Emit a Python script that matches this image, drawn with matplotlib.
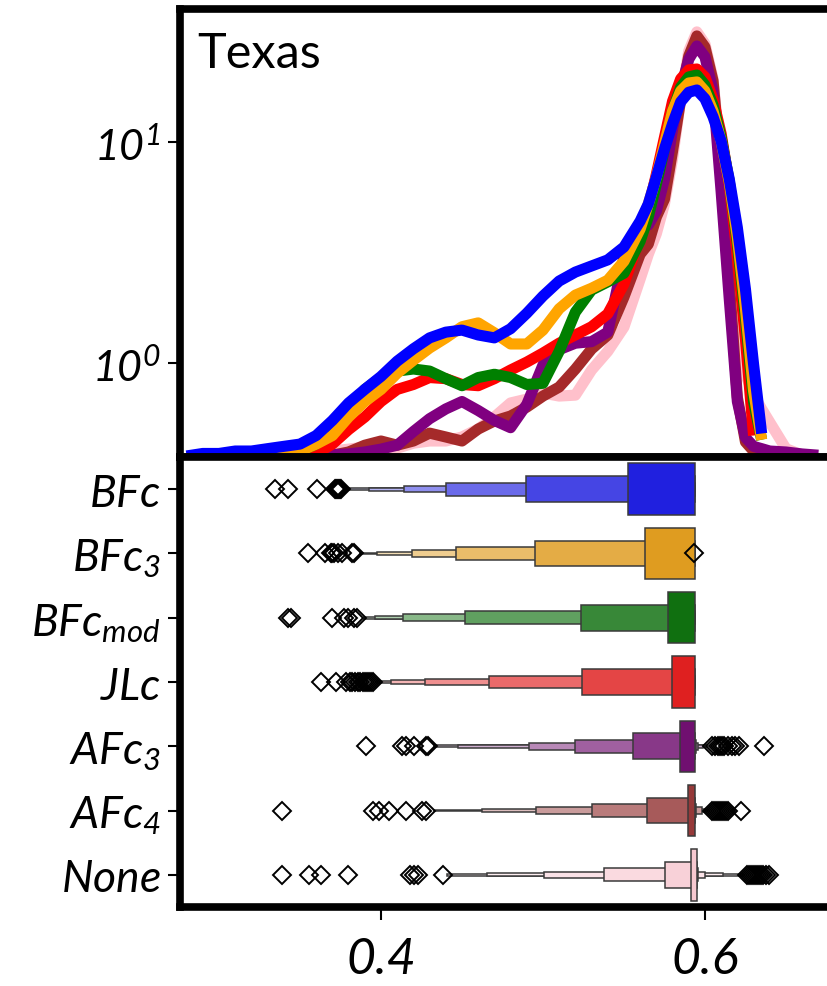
import colorsys
import matplotlib
matplotlib.use('Agg')
import matplotlib.pyplot as plt
import matplotlib.colors as mcolors
from matplotlib.ticker import NullLocator
import numpy as np

plt.rcParams['font.family'] = ['Lato', 'DejaVu Sans']
plt.rcParams['mathtext.fontset'] = 'custom'
plt.rcParams['mathtext.it'] = 'Lato:italic'
plt.rcParams['mathtext.rm'] = 'Lato:italic'

# methods, top to bottom in the lower panel
methods = ['BFc', 'BFc3', 'BFcmod', 'JLc', 'AFc3', 'AFc4', 'None']
method_labels = [r'$\mathit{BFc}$', r'$\mathit{BFc_{3}}$', r'$\mathit{BFc_{mod}}$', r'$\mathit{JLc}$',
                 r'$\mathit{AFc_{3}}$', r'$\mathit{AFc_{4}}$', r'$\mathit{None}$']
colors = ['blue', 'orange', 'green', 'red', 'purple', 'brown', 'pink']

# density curves (log scale), sampled on a common grid
kde_x = [0.28, 0.29, 0.30, 0.31, 0.32, 0.33, 0.34, 0.35, 0.36, 0.37,
         0.38, 0.39, 0.40, 0.41, 0.42, 0.43, 0.44, 0.45, 0.46, 0.47,
         0.48, 0.49, 0.50, 0.51, 0.52, 0.53, 0.54, 0.55,
         0.56, 0.565, 0.57, 0.575, 0.58, 0.585, 0.59, 0.595,
         0.60, 0.605, 0.61, 0.615, 0.62, 0.625, 0.63, 0.635,
         0.64, 0.65, 0.66, 0.67]
nan = np.nan
dens_bfc = [0.38, 0.39, 0.39, 0.40, 0.40, 0.41, 0.42, 0.43, 0.47, 0.55,
            0.66, 0.76, 0.87, 1.02, 1.16, 1.30, 1.38, 1.41, 1.34, 1.30,
            1.43, 1.68, 2.01, 2.35, 2.58, 2.75, 2.93, 3.35,
            4.39, 5.24, 6.94, 9.30, 12.1, 15.2, 16.8, 17.2,
            15.7, 13.0, 10.1, 6.8, 4.1, 2.16, 0.99, 0.48,
            nan, nan, nan, nan]
dens_bfc3 = [nan, nan, 0.38, 0.38, 0.38, 0.385, 0.39, 0.40, 0.43, 0.47,
             0.57, 0.67, 0.76, 0.90, 1.03, 1.17, 1.30, 1.46, 1.52, 1.37,
             1.22, 1.22, 1.41, 1.76, 2.03, 2.18, 2.37, 2.89,
             4.04, 5.24, 6.94, 9.8, 13.8, 17.0, 18.5, 18.7,
             17.0, 13.8, 10.1, 6.6, 3.7, 1.76, 0.75, 0.45,
             nan, nan, nan, nan]
dens_bfcmod = [nan, nan, 0.38, 0.38, 0.38, 0.385, 0.39, 0.40, 0.43, 0.50,
               0.62, 0.76, 0.86, 0.92, 0.94, 0.92, 0.85, 0.79, 0.86, 0.89,
               0.86, 0.80, 0.81, 1.13, 1.70, 2.14, 2.33, 2.55,
               3.56, 4.58, 6.45, 9.3, 13.8, 17.7, 19.7, 20.1,
               18.1, 14.7, 10.5, 6.66, 3.49, 1.61, 0.67, 0.45,
               nan, nan, nan, nan]
dens_jlc = [nan, nan, nan, 0.38, 0.38, 0.38, 0.38, 0.38, 0.39, 0.43,
            0.50, 0.57, 0.67, 0.76, 0.80, 0.86, 0.85, 0.80, 0.79, 0.85,
            0.93, 1.01, 1.11, 1.23, 1.34, 1.46, 1.67, 2.28,
            3.72, 4.98, 7.16, 10.5, 15.3, 19.3, 21.2, 21.4,
            19.7, 15.6, 10.9, 6.45, 3.02, 1.28, 0.47, nan,
            nan, nan, nan, nan]
dens_afc3 = [nan, nan, nan, nan, nan, nan, 0.38, 0.38, 0.383, 0.385,
             0.388, 0.396, 0.408, 0.425, 0.49, 0.56, 0.62, 0.67, 0.61, 0.55,
             0.51, 0.65, 0.98, 1.15, 1.23, 1.25, 1.38, 3.02,
             4.12, 4.21, 4.87, 6.80, 11.4, 17.4, 23.7, 27.2,
             24.3, 17.0, 5.94, 1.95, 0.67, 0.46, 0.42, 0.41,
             0.40, 0.396, 0.388, 0.383]
dens_afc4 = [nan, nan, nan, nan, nan, nan, 0.38, 0.38, 0.38, 0.383,
             0.396, 0.425, 0.444, 0.425, 0.444, 0.482, 0.463, 0.444, 0.503, 0.547,
             0.576, 0.632, 0.709, 0.779, 0.939, 1.157, 1.339, 1.99,
             3.11, 3.45, 4.58, 5.52, 9.11, 15.5, 24.5, 30.2,
             26.9, 18.9, 7.55, 2.35, 0.70, 0.44, 0.40, 0.388,
             nan, nan, nan, nan]
dens_none = [nan, nan, nan, nan, nan, 0.38, 0.383, 0.388, 0.392, 0.40,
             0.408, 0.417, 0.417, 0.412, 0.434, 0.444, 0.444, 0.463, 0.503, 0.57,
             0.66, 0.687, 0.732, 0.709, 0.716, 0.93, 1.13, 1.455,
             2.40, 3.1, 3.85, 5.24, 8.38, 15.6, 25.8, 31.5,
             27.8, 19.3, 7.95, 2.66, 1.28, 0.89, 0.72, 0.62,
             0.54, 0.41, 0.383, nan]
densities = [dens_bfc, dens_bfc3, dens_bfcmod, dens_jlc, dens_afc3, dens_afc4, dens_none]

# letter-value boxes, innermost (IQR) to outermost
lv_lower = [[0.5528, 0.4896, 0.4401, 0.4140, 0.3924, 0.3772],
            [0.5629, 0.4952, 0.4462, 0.4190, 0.3975, 0.3873],
            [0.5769, 0.5236, 0.4520, 0.4135, 0.3962, 0.3898],
            [0.5797, 0.5244, 0.4668, 0.4274, 0.4063, 0.3975],
            [0.5845, 0.5556, 0.5198, 0.4914, 0.4477, 0.4330],
            [0.5896, 0.5642, 0.5302, 0.4959, 0.4622, 0.4330],
            [0.5914, 0.5753, 0.5377, 0.5008, 0.4655, 0.4406]]
lv_upper = [[0.594, 0.594, 0.594, 0.594, 0.594, 0.594],
            [0.594, 0.594, 0.594, 0.594, 0.594, 0.594],
            [0.594, 0.594, 0.594, 0.594, 0.594, 0.594],
            [0.594, 0.594, 0.594, 0.594, 0.594, 0.594],
            [0.594, 0.594, 0.5945, 0.596, 0.599, 0.601],
            [0.594, 0.594, 0.5945, 0.598, 0.600, 0.602],
            [0.5951, 0.5951, 0.5955, 0.600, 0.6111, 0.6235]]
fliers = [[0.3345, 0.3429, 0.3607, 0.3715, 0.3722, 0.3728, 0.3735, 0.3741, 0.3748, 0.3755],
          [0.3548, 0.3657, 0.3690, 0.3700, 0.3712, 0.3733, 0.3759, 0.3822, 0.3835, 0.5934],
          [0.3429, 0.3447, 0.3695, 0.3772, 0.3797, 0.3835, 0.3853],
          [0.3632, 0.3721, 0.3784, 0.3810, 0.3822, 0.3841, 0.3860, 0.3873, 0.3886,
           0.3899, 0.3911, 0.3924, 0.3937, 0.3950],
          [0.3906, 0.4127, 0.4152, 0.4203, 0.4279, 0.4292,
           0.6043, 0.6062, 0.6081, 0.6094, 0.6107, 0.6120, 0.6145, 0.6170, 0.6183, 0.6208, 0.6365],
          [0.3391, 0.3949, 0.3987, 0.4051, 0.4152, 0.4254, 0.4279,
           0.6043, 0.6056, 0.6068, 0.6081, 0.6094, 0.6107, 0.6120, 0.6132, 0.6145, 0.6221],
          [0.3391, 0.3556, 0.3632, 0.3797, 0.4178, 0.4203, 0.4228, 0.4381,
           0.6260, 0.6272, 0.6285, 0.6298, 0.6310, 0.6323, 0.6336, 0.6348, 0.6361, 0.6374, 0.6398]]


def desaturate(c, prop):
    h, l, s = colorsys.rgb_to_hls(*mcolors.to_rgb(c))
    return np.array(colorsys.hls_to_rgb(h, l, s * prop))


fig = plt.figure(figsize=(8.28, 9.87), dpi=100)
ax_kde = fig.add_axes([0.2174, 0.536, 0.7905, 0.4539])
ax_box = fig.add_axes([0.2174, 0.080, 0.7905, 0.456], sharex=ax_kde)

# upper panel: density curves, pink drawn first, blue last
for i in reversed(range(len(methods))):
    ax_kde.plot(kde_x, densities[i], color=colors[i], lw=8, solid_capstyle='butt',
                solid_joinstyle='round')
ax_kde.set_yscale('log')
ax_kde.set_ylim(0.376, 40)
ax_kde.yaxis.set_minor_locator(NullLocator())
ax_kde.set_yticks([1, 10])
ax_kde.set_yticklabels([r'$10^{0}$', r'$10^{1}$'], fontsize=31)
ax_kde.tick_params(axis='x', bottom=False, labelbottom=False)
ax_kde.text(0.026, 0.87, 'Texas', transform=ax_kde.transAxes, fontsize=35, va='baseline')

# lower panel: letter-value (boxen) plot
n_lv = len(lv_lower[0])
for i in range(len(methods)):
    base = desaturate(colors[i], 0.75)
    for k in reversed(range(n_lv)):
        t = k / 6.0
        c = base * (1 - t) + np.ones(3) * t
        lo, hi = lv_lower[i][k], lv_upper[i][k]
        ax_box.barh(i, hi - lo, left=lo, height=0.8 / 2 ** k, color=c,
                    edgecolor='#3a3a3a', linewidth=1.1, zorder=2)
    ax_box.plot(fliers[i], [i] * len(fliers[i]), 'D', ms=9.5, mfc='none',
                mec='black', mew=1.4, zorder=3)

ax_box.set_ylim(len(methods) - 0.5, -0.5)
ax_box.set_yticks(range(len(methods)))
ax_box.set_yticklabels(method_labels, fontsize=32)
ax_box.set_xlim(0.27593, 0.68)
ax_box.set_xticks([0.4, 0.6])
ax_box.set_xticklabels(['0.4', '0.6'], fontsize=36, fontstyle='italic')

for ax in (ax_kde, ax_box):
    for sp in ax.spines.values():
        sp.set_linewidth(5.5)
    ax.tick_params(length=9, width=1.5, pad=5)
ax_box.tick_params(axis='x', pad=12)

plt.savefig('out.png', dpi=100)
